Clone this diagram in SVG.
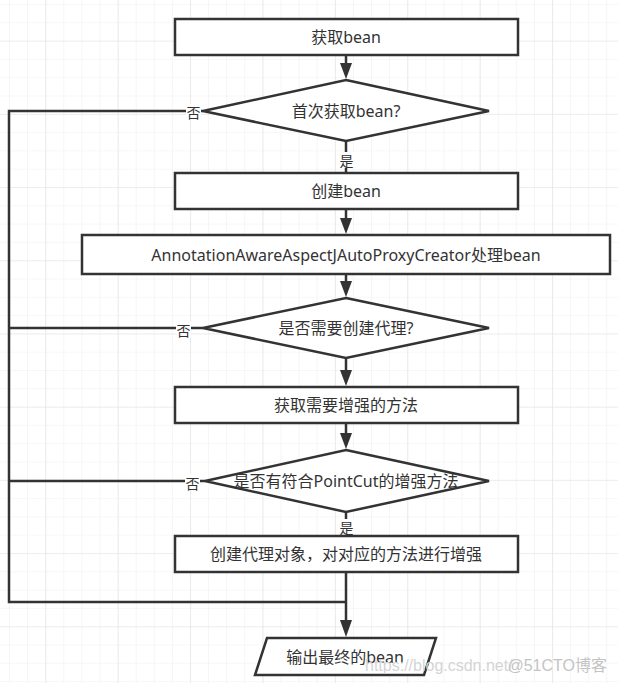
<svg xmlns="http://www.w3.org/2000/svg" width="618" height="683" viewBox="0 0 618 683">
<style>
.box{fill:#fff;stroke:#333;stroke-width:2.5}
.t{font-family:"Noto Sans","Noto Sans CJK SC",sans-serif;font-size:16px;fill:#333;text-anchor:middle;dominant-baseline:central}
.lbl{font-family:"Noto Sans CJK SC",sans-serif;font-size:14px;fill:#333;text-anchor:middle;dominant-baseline:central}
.ln{fill:none;stroke:#333;stroke-width:2.5}
.lbg{fill:#fff}
</style>
<defs>
<pattern id="minor" x="9" y="4" width="18.1" height="18.3" patternUnits="userSpaceOnUse">
<path d="M0 0V18.3M0 0H18.1" stroke="#efefef" stroke-width="1.2" fill="none"/>
</pattern>
<pattern id="major" x="45.3" y="40.7" width="72.4" height="73.2" patternUnits="userSpaceOnUse">
<path d="M0 0V73.2M0 0H72.4" stroke="#e3e3e3" stroke-width="1.2" fill="none"/>
</pattern>
</defs>
<rect width="618" height="683" fill="#fff"/>
<rect width="618" height="683" fill="url(#minor)"/>
<rect width="618" height="683" fill="url(#major)"/>

<g id="connectors">
<path class="ln" d="M346 55V64"/><path d="M340 63L346 79L352 63Z" fill="#333"/>
<path class="ln" d="M346 141V173"/>
<path class="ln" d="M346 209V218"/><path d="M340 218L346 234L352 218Z" fill="#333"/>
<path class="ln" d="M346 274V282"/><path d="M340 281L346 297L352 281Z" fill="#333"/>
<path class="ln" d="M346 358V371"/><path d="M340 370L346 386L352 370Z" fill="#333"/>
<path class="ln" d="M346 423V434"/><path d="M340 433L346 449L352 433Z" fill="#333"/>
<path class="ln" d="M346 512V536"/>
<path class="ln" d="M203 111H9V602H346"/>
<path class="ln" d="M203 328H9"/>
<path class="ln" d="M205 481H9"/>
<path class="ln" d="M346 572V621"/><path d="M340 620L346 637L352 620Z" fill="#333"/>
<g id="labels">
<rect class="lbg" x="186" y="104" width="15" height="16"/><text class="lbl" x="193.5" y="112">否</text>
<rect class="lbg" x="339" y="152" width="15" height="16"/><text class="lbl" x="346.5" y="160">是</text>
<rect class="lbg" x="176" y="321" width="15" height="16"/><text class="lbl" x="183.5" y="330">否</text>
<rect class="lbg" x="185" y="474" width="15" height="16"/><text class="lbl" x="192.5" y="483">否</text>
<rect class="lbg" x="339" y="519" width="15" height="16"/><text class="lbl" x="346.5" y="527">是</text>
</g>
</g>

<g id="n1"><rect class="box" x="175" y="19" width="343" height="36"/><text class="t" x="346" y="37">获取bean</text></g>
<g id="d1"><path class="box" d="M346 80L489 111L346 141L203 111Z"/><text class="t" x="346" y="111">首次获取bean?</text></g>
<g id="n2"><rect class="box" x="175" y="173" width="343" height="36"/><text class="t" x="346" y="191">创建bean</text></g>
<g id="n3"><rect class="box" x="82" y="235" width="528" height="39"/><text class="t" x="346" y="254.5">AnnotationAwareAspectJAutoProxyCreator处理bean</text></g>
<g id="d2"><path class="box" d="M346 298L489 328L346 358L203 328Z"/><text class="t" x="346" y="328">是否需要创建代理?</text></g>
<g id="n4"><rect class="box" x="175" y="387" width="343" height="36"/><text class="t" x="346" y="405">获取需要增强的方法</text></g>
<g id="d3"><path class="box" d="M346 450L489 481L346 512L205 481Z"/><text class="t" x="346" y="481">是否有符合PointCut的增强方法</text></g>
<g id="n5"><rect class="box" x="175" y="536" width="343" height="36"/><text class="t" x="346" y="554">创建代理对象，对对应的方法进行增强</text></g>
<g id="n6"><path class="box" d="M267 638H436L424 675H255Z"/><text class="t" x="345" y="657">输出最终的bean</text></g>

<g id="watermark">
<text x="365" y="671" font-family="'Liberation Sans',sans-serif" font-size="16" fill="#d4d4d4">https://blog.csdn.net/</text>
<text x="607" y="671" font-family="'Liberation Sans','Noto Sans CJK SC',sans-serif" font-size="16" fill="#c4c4c4" text-anchor="end">@51CTO博客</text>
</g>
</svg>
